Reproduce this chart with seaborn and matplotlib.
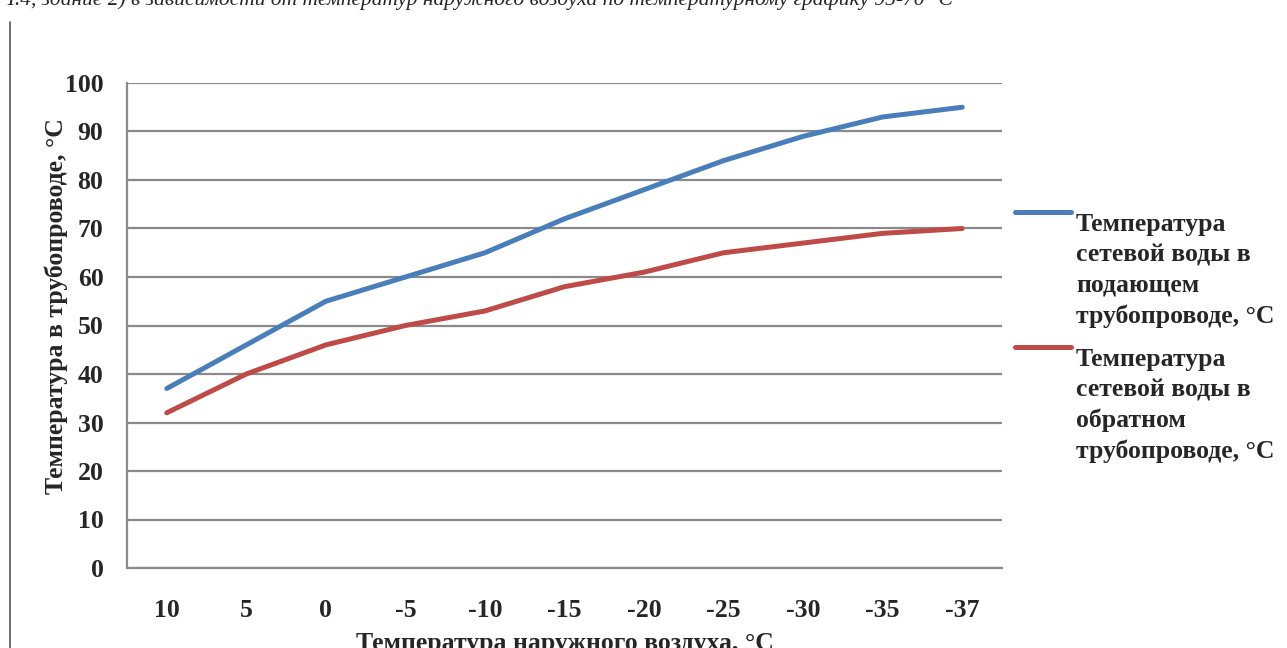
import numpy as np
import pandas as pd
import matplotlib
matplotlib.use("Agg")
import matplotlib.pyplot as plt
from matplotlib.lines import Line2D
import seaborn as sns

# Outdoor air temperature categories, °C
outdoor_labels = ["10", "5", "0", "-5", "-10", "-15", "-20", "-25", "-30", "-35", "-37"]
# Supply line water temperature, °C
supply_temp = [37, 46, 55, 60, 65, 72, 78, 84, 89, 93, 95]
# Return line water temperature, °C
return_temp = [32, 40, 46, 50, 53, 58, 61, 65, 67, 69, 70]

supply_name = "Температура\nсетевой воды в\nподающем\nтрубопроводе, °С"
return_name = "Температура\nсетевой воды в\nобратном\nтрубопроводе, °С"

sns.set_theme(style="white")
plt.rcParams["font.family"] = ["Liberation Serif", "DejaVu Serif"]

blue = "#4a7ebb"
red = "#be4b48"
grid_c = "#8a8a8a"
fs = 18.5

pos = np.arange(len(outdoor_labels))
df = pd.DataFrame({
    "pos": np.concatenate([pos, pos]),
    "temp": supply_temp + return_temp,
    "series": [supply_name] * len(pos) + [return_name] * len(pos),
})

fig = plt.figure(figsize=(12.87, 6.48), dpi=100)
ax = fig.add_axes([127 / 1287, 1 - 568 / 648, (1002 - 127) / 1287, (568 - 83) / 648])

sns.lineplot(data=df, x="pos", y="temp", hue="series",
             palette={supply_name: blue, return_name: red},
             linewidth=3.6, legend=False, ax=ax, solid_capstyle="round")

ax.set_xlim(-0.5, len(pos) - 0.5)
ax.set_ylim(0, 100)
ax.set_yticks(np.arange(0, 101, 10))
ax.yaxis.grid(True, color=grid_c, linewidth=1.6)
ax.set_axisbelow(True)

ax.set_xticks(pos)
ax.set_xticklabels(outdoor_labels, fontsize=fs, fontweight="bold")
ax.set_xticks(np.arange(-0.5, len(pos), 1.0), minor=True)
ax.tick_params(axis="x", which="major", length=0, pad=22)
ax.tick_params(axis="x", which="minor", length=7, width=1.3, color=grid_c, direction="out")
ax.tick_params(axis="y", labelsize=fs, length=7, width=1.3, color=grid_c,
               direction="out", pad=10)
for t in ax.get_yticklabels():
    t.set_fontweight("bold")

for side in ["top", "right"]:
    ax.spines[side].set_visible(False)
for side in ["left", "bottom"]:
    ax.spines[side].set_color(grid_c)
    ax.spines[side].set_linewidth(1.6)

ax.set_ylabel("Температура в трубопроводе, °С", fontsize=fs, fontweight="bold")
ax.yaxis.set_label_coords(-0.067, 0.54)
ax.set_xlabel("Температура наружного воздуха, °С", fontsize=fs, fontweight="bold")
ax.xaxis.set_label_coords(0.5, -0.131)

# Legend drawn beside the plot area
for name, color, y_handle in [(supply_name, blue, 212), (return_name, red, 347)]:
    yf = 1 - y_handle / 648
    fig.add_artist(Line2D([1015 / 1287, 1071 / 1287], [yf, yf],
                          color=color, linewidth=3.6, transform=fig.transFigure))
    fig.text(1076 / 1287, yf - 0.002, name, fontsize=fs, fontweight="bold",
             va="top", ha="left", linespacing=1.4)

# Page border and caption line above the chart
fig.add_artist(Line2D([10 / 1287, 10 / 1287], [0, 1 - 22 / 648],
                      color="#555555", linewidth=1.2, transform=fig.transFigure))
fig.text(0.0, 1.0, "Ч.4, здание 2) в зависимости от температур наружного воздуха по температурному графику 95-70 °С",
         fontsize=15.5, fontstyle="italic", va="center", ha="left")

fig.savefig("out.png", dpi=100, facecolor="white")
